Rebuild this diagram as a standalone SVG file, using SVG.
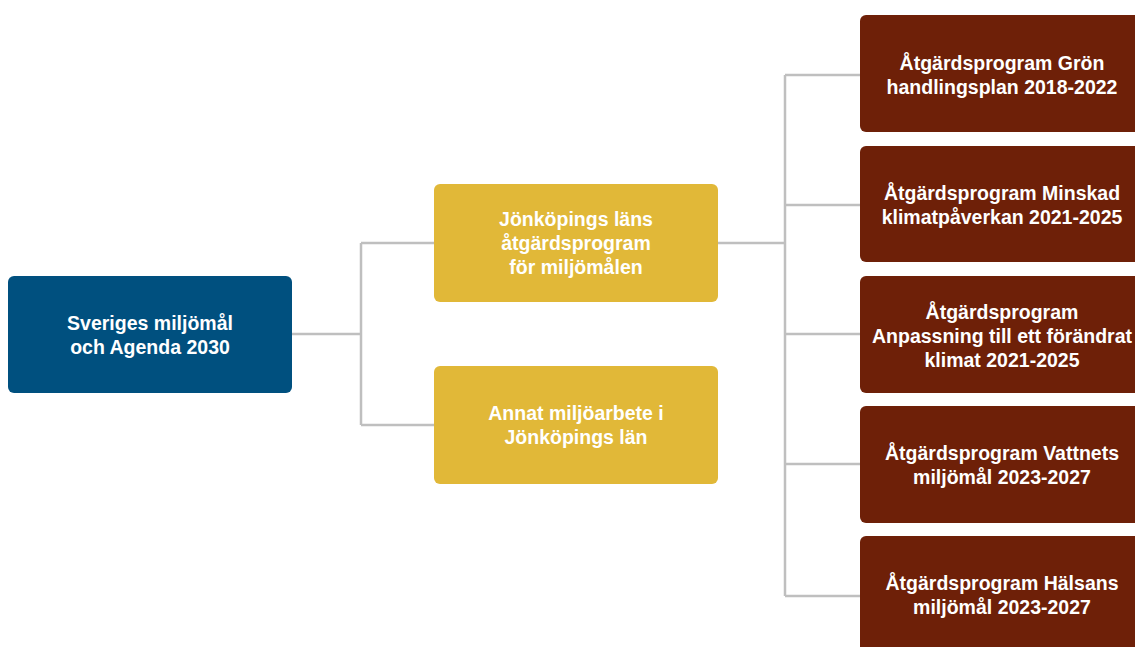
<svg xmlns="http://www.w3.org/2000/svg" width="1135" height="647" viewBox="0 0 1135 647">
<style>
.c{fill:none;stroke:#BFBFBF;stroke-width:2.5}
.t{font-family:"Liberation Sans",Arial,sans-serif;font-weight:bold;font-size:19.5px;fill:#fff;text-anchor:middle}
.b{fill:#00507F}.y{fill:#E1B838}.r{fill:#6E2008}
</style>
<rect width="1135" height="647" fill="#fff"/>
<g id="connectors">
<path class="c" d="M292 334H361M361 243V425M361 243H434M361 425H434"/>
<path class="c" d="M718 243H785M785 75V596M785 75H860M785 205H860M785 334H860M785 464H860M785 596H860"/>
</g>
<g id="n1"><rect class="b" x="8" y="276" width="284" height="117" rx="6"/>
<text class="t" x="150" y="330">Sveriges miljömål</text><text class="t" x="150" y="354">och Agenda 2030</text></g>
<g id="n2"><rect class="y" x="434" y="184" width="284" height="118" rx="6"/>
<text class="t" x="576" y="226">Jönköpings läns</text><text class="t" x="576" y="250">åtgärdsprogram</text><text class="t" x="576" y="274">för miljömålen</text></g>
<g id="n3"><rect class="y" x="434" y="366" width="284" height="118" rx="6"/>
<text class="t" x="576" y="420">Annat miljöarbete i</text><text class="t" x="576" y="444">Jönköpings län</text></g>
<g id="n4"><rect class="r" x="860" y="15" width="290" height="117" rx="6"/>
<text class="t" x="1002" y="70">Åtgärdsprogram Grön</text><text class="t" x="1002" y="94">handlingsplan 2018-2022</text></g>
<g id="n5"><rect class="r" x="860" y="146" width="290" height="116" rx="6"/>
<text class="t" x="1002" y="200">Åtgärdsprogram Minskad</text><text class="t" x="1002" y="224">klimatpåverkan 2021-2025</text></g>
<g id="n6"><rect class="r" x="860" y="276" width="290" height="117" rx="6"/>
<text class="t" x="1002" y="319">Åtgärdsprogram</text><text class="t" x="1002" y="343">Anpassning till ett förändrat</text><text class="t" x="1002" y="367">klimat 2021-2025</text></g>
<g id="n7"><rect class="r" x="860" y="406" width="290" height="117" rx="6"/>
<text class="t" x="1002" y="460">Åtgärdsprogram Vattnets</text><text class="t" x="1002" y="484">miljömål 2023-2027</text></g>
<g id="n8"><rect class="r" x="860" y="536" width="290" height="130" rx="6"/>
<text class="t" x="1002" y="590">Åtgärdsprogram Hälsans</text><text class="t" x="1002" y="614">miljömål 2023-2027</text></g>
</svg>
